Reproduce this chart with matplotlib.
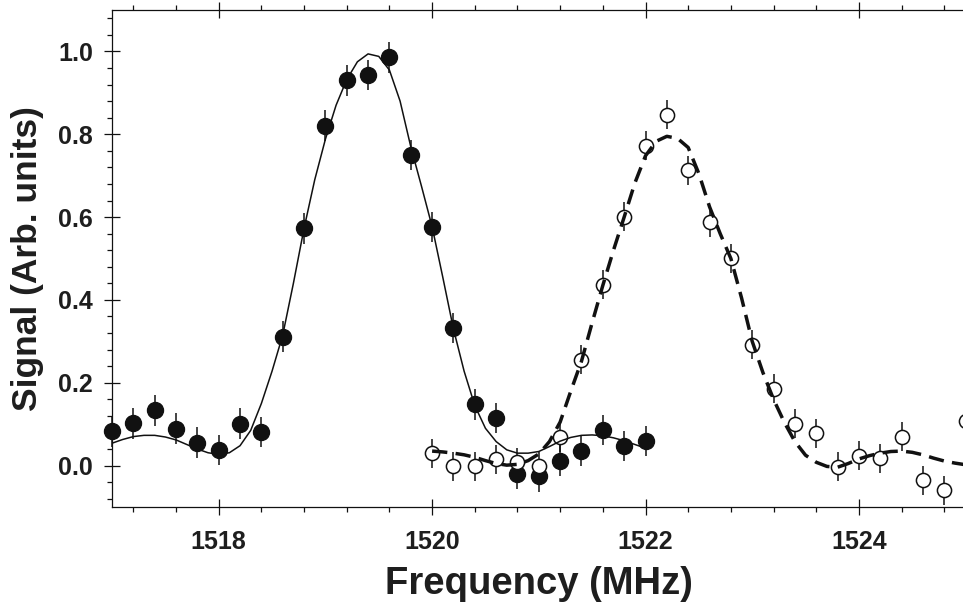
import matplotlib
matplotlib.use("Agg")
import matplotlib.pyplot as plt
from matplotlib.ticker import MultipleLocator

plt.rcParams['font.family'] = ['Liberation Sans', 'DejaVu Sans']
plt.rcParams['font.weight'] = 'bold'

# filled circles (first transition)
filled_x = [1517.0, 1517.2, 1517.4, 1517.6, 1517.8,
            1518.0, 1518.2, 1518.4, 1518.6, 1518.8,
            1519.0, 1519.2, 1519.4, 1519.6, 1519.8,
            1520.0, 1520.2, 1520.4, 1520.6, 1520.8,
            1521.0, 1521.2, 1521.4, 1521.6, 1521.8,
            1522.0]
filled_y = [0.083, 0.102, 0.133, 0.089, 0.055,
            0.038, 0.101, 0.081, 0.311, 0.573,
            0.821, 0.930, 0.943, 0.986, 0.750,
            0.576, 0.332, 0.148, 0.115, -0.020,
            -0.026, 0.012, 0.036, 0.086, 0.047,
            0.059]
filled_err = [0.037, 0.037, 0.037, 0.037, 0.037,
              0.037, 0.037, 0.037, 0.037, 0.037,
              0.037, 0.037, 0.037, 0.037, 0.037,
              0.037, 0.037, 0.037, 0.037, 0.037,
              0.037, 0.037, 0.037, 0.037, 0.037,
              0.037]

# open circles (second transition)
open_x = [1520.0, 1520.2, 1520.4, 1520.6, 1520.8,
          1521.0, 1521.2, 1521.4, 1521.6, 1521.8,
          1522.0, 1522.2, 1522.4, 1522.6, 1522.8,
          1523.0, 1523.2, 1523.4, 1523.6, 1523.8,
          1524.0, 1524.2, 1524.4, 1524.6, 1524.8,
          1525.0]
open_y = [0.030, -0.002, -0.002, 0.015, 0.008,
          -0.002, 0.069, 0.256, 0.437, 0.601,
          0.772, 0.847, 0.713, 0.587, 0.501,
          0.292, 0.185, 0.101, 0.078, -0.003,
          0.024, 0.018, 0.070, -0.036, -0.059,
          0.108]
open_err = [0.035, 0.035, 0.035, 0.035, 0.035,
            0.035, 0.035, 0.035, 0.035, 0.035,
            0.035, 0.035, 0.035, 0.035, 0.035,
            0.035, 0.035, 0.035, 0.035, 0.035,
            0.035, 0.035, 0.035, 0.035, 0.035,
            0.035]

# fitted curves
fit1_x = [1517.0, 1517.1, 1517.2, 1517.3, 1517.4, 1517.5, 1517.6, 1517.7, 1517.8, 1517.9,
          1518.0, 1518.1, 1518.2, 1518.3, 1518.4, 1518.5, 1518.6, 1518.7, 1518.8, 1518.9,
          1519.0, 1519.1, 1519.2, 1519.3, 1519.4, 1519.5, 1519.6, 1519.7, 1519.8, 1519.9,
          1520.0, 1520.1, 1520.2, 1520.3, 1520.4, 1520.5, 1520.6, 1520.7, 1520.8, 1520.9,
          1521.0, 1521.1, 1521.2, 1521.3, 1521.4, 1521.5, 1521.6, 1521.7, 1521.8, 1521.9,
          1522.0]
fit1_y = [0.054, 0.063, 0.070, 0.073, 0.073, 0.069, 0.062, 0.051, 0.040, 0.031,
          0.027, 0.031, 0.048, 0.085, 0.150, 0.228, 0.315, 0.440, 0.573, 0.690,
          0.788, 0.870, 0.932, 0.975, 0.994, 0.988, 0.955, 0.880, 0.770, 0.675,
          0.577, 0.455, 0.330, 0.228, 0.145, 0.090, 0.058, 0.038, 0.030, 0.030,
          0.034, 0.046, 0.059, 0.068, 0.073, 0.074, 0.072, 0.067, 0.060, 0.051,
          0.042]

fit2_x = [1520.0, 1520.1, 1520.2, 1520.3, 1520.4, 1520.5, 1520.6, 1520.7, 1520.8, 1520.9,
          1521.0, 1521.1, 1521.2, 1521.3, 1521.4, 1521.5, 1521.6, 1521.7, 1521.8, 1521.9,
          1522.0, 1522.1, 1522.2, 1522.3, 1522.4, 1522.5, 1522.6, 1522.7, 1522.8, 1522.9,
          1523.0, 1523.1, 1523.2, 1523.3, 1523.4, 1523.5, 1523.6, 1523.7, 1523.8, 1523.9,
          1524.0, 1524.1, 1524.2, 1524.3, 1524.4, 1524.5, 1524.6, 1524.7, 1524.8, 1524.9,
          1525.0]
fit2_y = [0.035, 0.033, 0.030, 0.026, 0.020, 0.012, 0.005, 0.001, 0.003, 0.012,
          0.028, 0.058, 0.105, 0.180, 0.252, 0.345, 0.435, 0.520, 0.600, 0.682,
          0.748, 0.783, 0.795, 0.790, 0.768, 0.705, 0.625, 0.560, 0.500, 0.405,
          0.300, 0.225, 0.160, 0.105, 0.058, 0.025, 0.008, -0.002, -0.004, 0.005,
          0.016, 0.024, 0.030, 0.034, 0.035, 0.032, 0.026, 0.018, 0.011, 0.006,
          0.002]

ink = '#111111'
txt = '#1e1e1e'

fig = plt.figure(figsize=(9.63, 6.12), dpi=100)
ax = fig.add_axes([112 / 963, 105 / 612, 853.6 / 963, 497 / 612])

ax.errorbar(filled_x, filled_y, yerr=filled_err, fmt='o', ms=11.5,
            mfc=ink, mec=ink, mew=1.0, ecolor=ink, elinewidth=1.1,
            capsize=0, clip_on=False, zorder=3)
ax.errorbar(open_x, open_y, yerr=open_err, fmt='o', ms=10.2,
            mfc='white', mec=ink, mew=1.1, ecolor=ink, elinewidth=1.1,
            capsize=0, clip_on=False, zorder=3)

ax.plot(fit1_x, fit1_y, color=ink, lw=1.1, zorder=4)
ax.plot(fit2_x, fit2_y, color=ink, lw=2.5, ls=(0, (4.4, 2.4)), zorder=4)

ax.set_xlim(1517, 1525)
ax.set_ylim(-0.1, 1.1)
ax.xaxis.set_major_locator(MultipleLocator(2))
ax.xaxis.set_minor_locator(MultipleLocator(0.4))
ax.yaxis.set_major_locator(MultipleLocator(0.2))
ax.yaxis.set_minor_locator(MultipleLocator(0.04))
ax.yaxis.set_major_formatter(plt.FormatStrFormatter('%.1f'))

ax.spines['right'].set_visible(False)
for s in ['left', 'top', 'bottom']:
    ax.spines[s].set_linewidth(0.9)
    ax.spines[s].set_color(ink)

ax.tick_params(which='major', direction='inout', length=11.5, width=0.9,
               color=ink, labelsize=18, labelcolor=txt, top=True)
ax.tick_params(which='minor', direction='out', length=3.8, width=0.9,
               color=ink, top=True)
ax.tick_params(axis='x', which='major', pad=10.5)
ax.tick_params(axis='y', which='major', pad=8)

ax.set_xlabel('Frequency (MHz)', fontsize=27.5, fontweight='bold', color=txt,
              labelpad=9)
ax.set_ylabel('Signal (Arb. units)', fontsize=25.5, fontweight='bold', color=txt,
              labelpad=10)

fig.savefig('out.png', dpi=100)
